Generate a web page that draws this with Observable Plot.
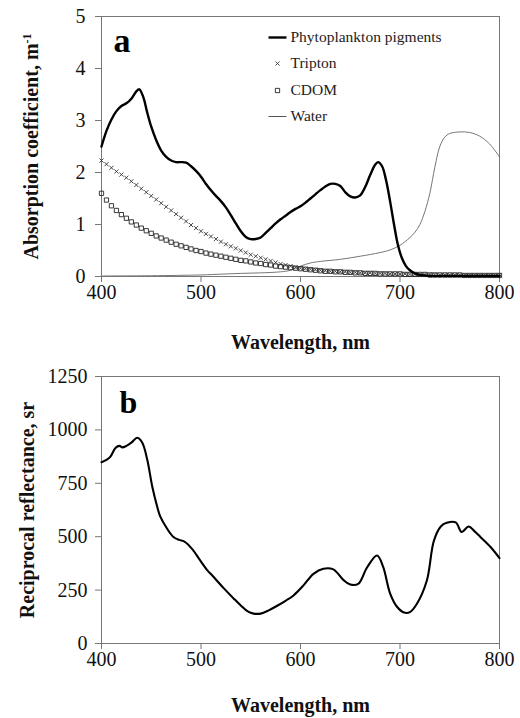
<!DOCTYPE html>
<html>
<head>
<meta charset="utf-8">
<script src="https://cdn.jsdelivr.net/npm/d3@7"></script>
<script src="https://cdn.jsdelivr.net/npm/@observablehq/plot@0.6"></script>
<style>
  html, body { margin: 0; padding: 0; background: #fff; }
  #chart { width: 520px; height: 718px; overflow: hidden; }
  #chart svg { display: block; }
</style>
</head>
<body>
<div id="chart"></div>
<script>
// ---------- Panel a: absorption coefficients ----------
const xTicks = [400, 500, 600, 700, 800];
const yTicksA = [0, 1, 2, 3, 4, 5];
const yTicksB = [0, 250, 500, 750, 1000, 1250];

const phytoWl = [400,405,410,415,420,425,430,435,438,442,446,450,455,460,465,470,475,480,485,490,495,500,505,510,515,520,525,530,535,540,545,550,555,560,565,570,575,580,585,590,595,600,605,610,615,620,625,630,635,640,645,650,655,660,665,670,675,678,682,686,690,694,698,702,706,710,715,720,730,750,800];
const phytoVal = [2.50,2.80,3.02,3.18,3.28,3.33,3.42,3.56,3.60,3.45,3.15,2.88,2.62,2.42,2.30,2.23,2.20,2.20,2.19,2.12,2.03,1.92,1.78,1.66,1.55,1.45,1.33,1.18,1.02,0.87,0.76,0.72,0.72,0.75,0.84,0.93,1.02,1.10,1.17,1.24,1.30,1.35,1.42,1.50,1.58,1.66,1.73,1.78,1.78,1.74,1.62,1.54,1.52,1.56,1.72,1.95,2.15,2.20,2.12,1.85,1.45,1.00,0.60,0.35,0.20,0.12,0.06,0.03,0.01,0.01,0.01];

const wl5 = [400,405,410,415,420,425,430,435,440,445,450,455,460,465,470,475,480,485,490,495,500,505,510,515,520,525,530,535,540,545,550,555,560,565,570,575,580,585,590,595,600,605,610,615,620,625,630,635,640,645,650,655,660,665,670,675,680,685,690,695,700,705,710,715,720,725,730,735,740,745,750,755,760,765,770,775,780,785,790,795,800];
const triptonVal = [
  2.23,2.16,2.09,2.02,1.96,1.90,1.83,1.76,1.69,1.62,
  1.55,1.48,1.41,1.34,1.27,1.20,1.13,1.06,0.99,0.93,
  0.87,0.82,0.77,0.72,0.67,0.62,0.58,0.54,0.50,0.46,
  0.42,0.39,0.36,0.33,0.30,0.27,0.24,0.22,0.20,0.18,
  0.16,0.15,0.14,0.13,0.12,0.11,0.10,0.10,0.09,0.09,
  0.08,0.08,0.07,0.07,0.07,0.06,0.06,0.06,0.05,0.05,
  0.05,0.05,0.04,0.04,0.04,0.04,0.04,0.04,0.03,0.03,
  0.03,0.03,0.03,0.03,0.03,0.03,0.03,0.03,0.03,0.03,
  0.03];
const cdomVal = [
  1.60,1.47,1.36,1.27,1.19,1.12,1.05,0.99,0.93,0.88,
  0.83,0.78,0.74,0.70,0.66,0.62,0.59,0.56,0.53,0.50,
  0.48,0.45,0.43,0.41,0.39,0.37,0.35,0.33,0.31,0.30,
  0.28,0.26,0.25,0.23,0.22,0.20,0.19,0.18,0.17,0.16,
  0.15,0.14,0.13,0.12,0.11,0.10,0.10,0.09,0.09,0.08,
  0.08,0.07,0.07,0.06,0.06,0.06,0.05,0.05,0.05,0.05,
  0.05,0.04,0.04,0.04,0.04,0.04,0.03,0.03,0.03,0.03,
  0.03,0.03,0.03,0.02,0.02,0.02,0.02,0.02,0.02,0.02,
  0.02];

const waterWl  = [400,450,500,520,540,560,580,590,600,610,620,640,660,680,690,700,710,715,720,725,730,735,740,745,750,760,770,780,790,800];
const waterVal = [0.01,0.015,0.03,0.045,0.06,0.07,0.09,0.12,0.20,0.26,0.29,0.33,0.39,0.46,0.51,0.60,0.75,0.85,1.00,1.25,1.60,2.10,2.50,2.68,2.75,2.78,2.77,2.70,2.55,2.30];

const legendLabels = ["Phytoplankton pigments", "Tripton", "CDOM", "Water"];

// ---------- Panel b: reciprocal reflectance ----------
const reflWl  = [400,405,409,414,418,421,425,430,436,441,446,451,456,459,466,472,478,483,491,499,506,513,523,533,540,547,553,560,568,577,585,593,603,613,623,633,643,650,658,667,677,683,690,697,704,710,717,727,734,741,747,756,762,769,775,781,791,800];
const reflVal = [849,860,875,915,925,918,925,940,963,940,860,735,640,595,537,500,485,478,443,390,345,310,258,210,178,150,140,140,155,178,200,225,272,326,350,347,298,276,279,357,412,360,235,172,145,147,186,295,480,548,565,567,522,548,525,498,452,400];

const panelA = "a", panelB = "b";
const xTitle = "Wavelength, nm";
const yTitleA = "Absorption coefficient, m";
const yTitleAsup = "-1";
const yTitleB = "Reciprocal reflectance, sr";

const phytoData = phytoWl.map((w, i) => ({w, v: phytoVal[i]}));
const triptonData = wl5.map((w, i) => ({w, v: triptonVal[i]}));
const cdomData = wl5.map((w, i) => ({w, v: cdomVal[i]}));
const waterData = waterWl.map((w, i) => ({w, v: waterVal[i]}));
const reflData = reflWl.map((w, i) => ({w, v: reflVal[i]}));

const FONT = "'Liberation Serif', 'Times New Roman', serif";
const hline = { draw(ctx) { ctx.moveTo(-9, 0); ctx.lineTo(9, 0); } };

const legendRowsDy = [21, 47, 74, 100];

const plotA = Plot.plot({
  width: 520, height: 360,
  marginTop: 16, marginBottom: 84, marginLeft: 101, marginRight: 21,
  style: {fontFamily: FONT, fontSize: "20px", color: "#111", background: "#fff", overflow: "visible"},
  x: {domain: [400, 800], label: null},
  y: {domain: [0, 5], label: null},
  marks: [
    Plot.frame({stroke: "#777"}),
    Plot.axisX({ticks: xTicks, tickSize: 6, tickPadding: 2, stroke: "#777", fill: "#111", fontSize: 20, label: null, tickFormat: d => String(d)}),
    Plot.axisY({ticks: yTicksA, tickSize: 6, tickPadding: 10, stroke: "#777", fill: "#111", fontSize: 20, label: null, tickFormat: d => String(d)}),
    Plot.line(waterData, {x: "w", y: "v", stroke: "#777", strokeWidth: 1, curve: "catmull-rom"}),
    Plot.dot(cdomData, {x: "w", y: "v", symbol: "square", r: 2.4, stroke: "#222", fill: "none", strokeWidth: 0.9}),
    Plot.dot(triptonData, {x: "w", y: "v", symbol: "times", r: 2, stroke: "#333", strokeWidth: 0.9}),
    Plot.line(phytoData, {x: "w", y: "v", stroke: "#000", strokeWidth: 2.4, curve: "catmull-rom", strokeLinejoin: "round"}),
    Plot.text([panelA], {frameAnchor: "top-left", dx: 12, dy: 25, textAnchor: "start", lineAnchor: "middle", fontSize: 34, fontWeight: "bold", fill: "#000"}),
    Plot.text([xTitle], {frameAnchor: "bottom", dy: 66, textAnchor: "middle", lineAnchor: "middle", fontSize: 20, fontWeight: "bold", fill: "#111"}),
    Plot.text([yTitleA], {frameAnchor: "left", rotate: -90, dx: -70, dy: 0, textAnchor: "middle", lineAnchor: "middle", fontSize: 20, fontWeight: "bold", fill: "#111"}),
    // legend
    Plot.dot([legendLabels[0]], {frameAnchor: "top-left", dx: 176, dy: legendRowsDy[0], symbol: hline, stroke: "#000", strokeWidth: 2.4}),
    Plot.dot([legendLabels[1]], {frameAnchor: "top-left", dx: 176, dy: legendRowsDy[1], symbol: "times", r: 2, stroke: "#333", strokeWidth: 0.9}),
    Plot.dot([legendLabels[2]], {frameAnchor: "top-left", dx: 176, dy: legendRowsDy[2], symbol: "square", r: 2.4, stroke: "#222", fill: "none", strokeWidth: 0.9}),
    Plot.dot([legendLabels[3]], {frameAnchor: "top-left", dx: 176, dy: legendRowsDy[3], symbol: hline, stroke: "#555", strokeWidth: 1}),
    ...legendLabels.map((lab, i) => Plot.text([lab], {frameAnchor: "top-left", dx: 189, dy: legendRowsDy[i], textAnchor: "start", lineAnchor: "middle", fontSize: 15.5, fill: "#222"}))
  ]
});

// superscript on the y title of panel a
d3.select(plotA).selectAll("text")
  .filter(function () { return this.textContent === yTitleA; })
  .append("tspan").attr("dy", "-0.6em").attr("font-size", 12).text(yTitleAsup);

const plotB = Plot.plot({
  width: 520, height: 358,
  marginTop: 16, marginBottom: 75, marginLeft: 101, marginRight: 21,
  style: {fontFamily: FONT, fontSize: "20px", color: "#111", background: "#fff", overflow: "visible"},
  x: {domain: [400, 800], label: null},
  y: {domain: [0, 1250], label: null},
  marks: [
    Plot.frame({stroke: "#777"}),
    Plot.axisX({ticks: xTicks, tickSize: 6, tickPadding: 2, stroke: "#777", fill: "#111", fontSize: 20, label: null, tickFormat: d => String(d)}),
    Plot.axisY({ticks: yTicksB, tickSize: 6, tickPadding: 8, stroke: "#777", fill: "#111", fontSize: 20, label: null, tickFormat: d => String(d)}),
    Plot.line(reflData, {x: "w", y: "v", stroke: "#000", strokeWidth: 2.1, curve: "catmull-rom", strokeLinejoin: "round"}),
    Plot.text([panelB], {frameAnchor: "top-left", dx: 18, dy: 26, textAnchor: "start", lineAnchor: "middle", fontSize: 32, fontWeight: "bold", fill: "#000"}),
    Plot.text([xTitle], {frameAnchor: "bottom", dy: 62, textAnchor: "middle", lineAnchor: "middle", fontSize: 20, fontWeight: "bold", fill: "#111"}),
    Plot.text([yTitleB], {frameAnchor: "left", rotate: -90, dx: -74, dy: 0, textAnchor: "middle", lineAnchor: "middle", fontSize: 20, fontWeight: "bold", fill: "#111"})
  ]
});

const root = document.getElementById("chart");
root.appendChild(plotA);
root.appendChild(plotB);
</script>
</body>
</html>
